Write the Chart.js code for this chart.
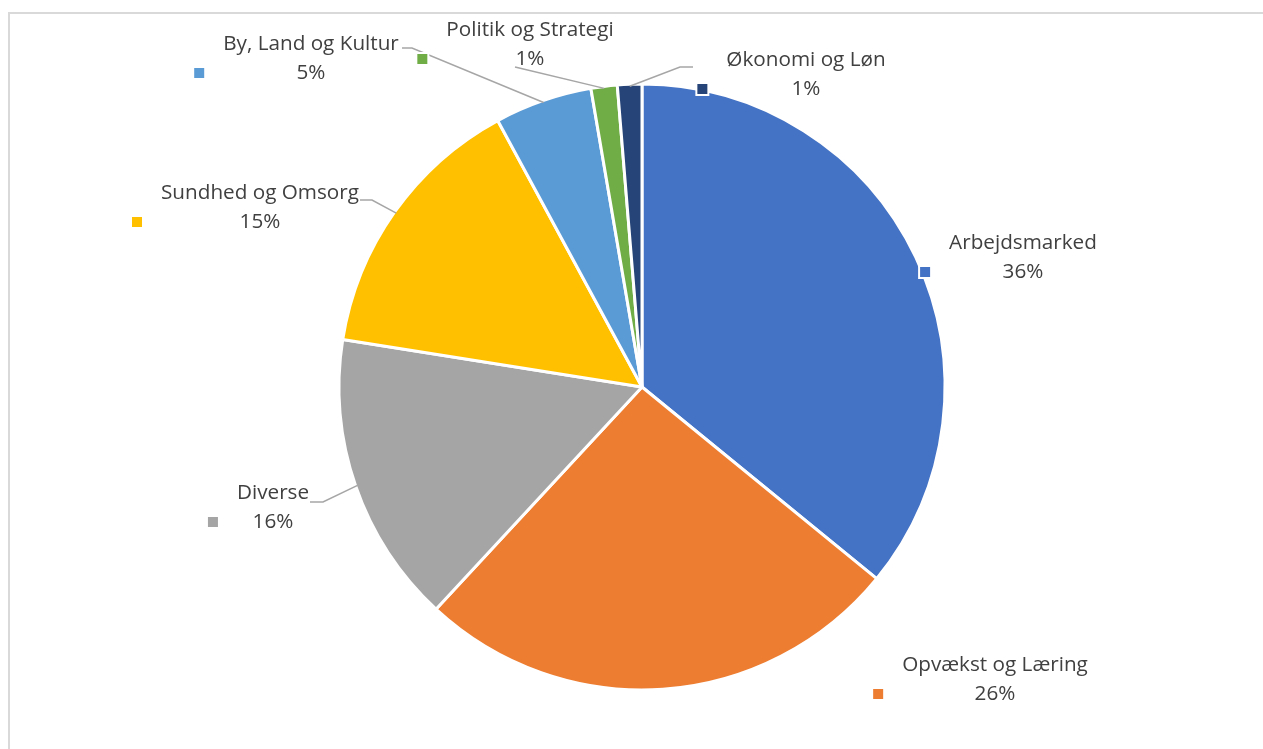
<!DOCTYPE html>
<html>
<head>
<meta charset="utf-8">
<script src="https://cdn.jsdelivr.net/npm/chart.js@4"></script>
<style>
    html, body { margin: 0; padding: 0; background: #fff; overflow: hidden; }
    #frame {
        position: absolute; left: 8px; top: 12px; width: 1270px; height: 800px;
        border-left: 2px solid #d9d9d9; border-top: 2px solid #d9d9d9;
    }
    #wrap { position: absolute; left: 0; top: 0; width: 1263px; height: 749px; }
</style>
</head>
<body>
<div id="frame"></div>
<div id="wrap"><canvas id="pieChart"></canvas></div>
<script>
const categories = ['Arbejdsmarked', 'Opvækst og Læring', 'Diverse', 'Sundhed og Omsorg',
    'By, Land og Kultur', 'Politik og Strategi', 'Økonomi og Løn'];
const shares = [35.9, 26.0, 15.6, 14.6, 5.2, 1.4, 1.3];
const sliceColors = ['#4472C4', '#ED7D31', '#A5A5A5', '#FFC000', '#5B9BD5', '#70AD47', '#264478'];

// label placement relative to pie centre (first text line centre), leader points relative to label
const labelLayout = [
    { dx: 381, dy: -144 },
    { dx: 353, dy: 278 },
    { dx: -369, dy: 106, leader: [[37, 9], [50, 9]] },
    { dx: -382, dy: -194, leader: [[100, 7], [112, 7]] },
    { dx: -331, dy: -343, leader: [[91, 4], [101, 4]] },
    { dx: -112, dy: -357, leader: [[-15, 37]] },
    { dx: 164, dy: -327, leader: [[-113, 7], [-126, 7]] },
];

const pieLabels = {
    id: 'pieLabels',
    afterDatasetsDraw(chart) {
        const ctx = chart.ctx;
        const arcs = chart.getDatasetMeta(0).data;
        const total = shares.reduce((a, b) => a + b, 0);
        ctx.save();
        ctx.font = '20.7px "Open Sans"';
        ctx.textAlign = 'center';
        ctx.textBaseline = 'middle';
        arcs.forEach((arc, i) => {
            const lay = labelLayout[i];
            const mid = (arc.startAngle + arc.endAngle) / 2;
            const lx = arc.x + lay.dx;
            const ly = arc.y + lay.dy;
            const pct = Math.round(shares[i] / total * 100) + '%';

            if (lay.leader) {
                ctx.strokeStyle = '#a6a6a6';
                ctx.lineWidth = 1.5;
                ctx.beginPath();
                lay.leader.forEach(([px, py], k) => {
                    if (k === 0) ctx.moveTo(lx + px, ly + py);
                    else ctx.lineTo(lx + px, ly + py);
                });
                ctx.lineTo(arc.x + Math.cos(mid) * (arc.outerRadius - 2), arc.y + Math.sin(mid) * (arc.outerRadius - 2));
                ctx.stroke();
            }

            const w = Math.max(ctx.measureText(categories[i]).width, ctx.measureText(pct).width);
            const keyX = lx - w / 2 - 24;
            const keyY = ly + 29;
            ctx.fillStyle = '#fff';
            ctx.fillRect(keyX - 7, keyY - 7, 14, 14);
            ctx.fillStyle = sliceColors[i];
            ctx.fillRect(keyX - 5, keyY - 5, 10, 10);

            ctx.fillStyle = '#404040';
            ctx.fillText(categories[i], lx, ly);
            ctx.fillText(pct, lx, ly + 29);
        });
        ctx.restore();
    },
};

new Chart(document.getElementById('pieChart'), {
    type: 'pie',
    data: {
        labels: categories,
        datasets: [{
            data: shares,
            backgroundColor: sliceColors,
            borderColor: '#ffffff',
            borderWidth: 3,
        }],
    },
    options: {
        responsive: true,
        maintainAspectRatio: false,
        animation: false,
        layout: { padding: { top: 82.5, bottom: 57.5, left: 337.5, right: 316.5 } },
        plugins: { legend: { display: false }, tooltip: { enabled: false } },
    },
    plugins: [pieLabels],
});
</script>
</body>
</html>
